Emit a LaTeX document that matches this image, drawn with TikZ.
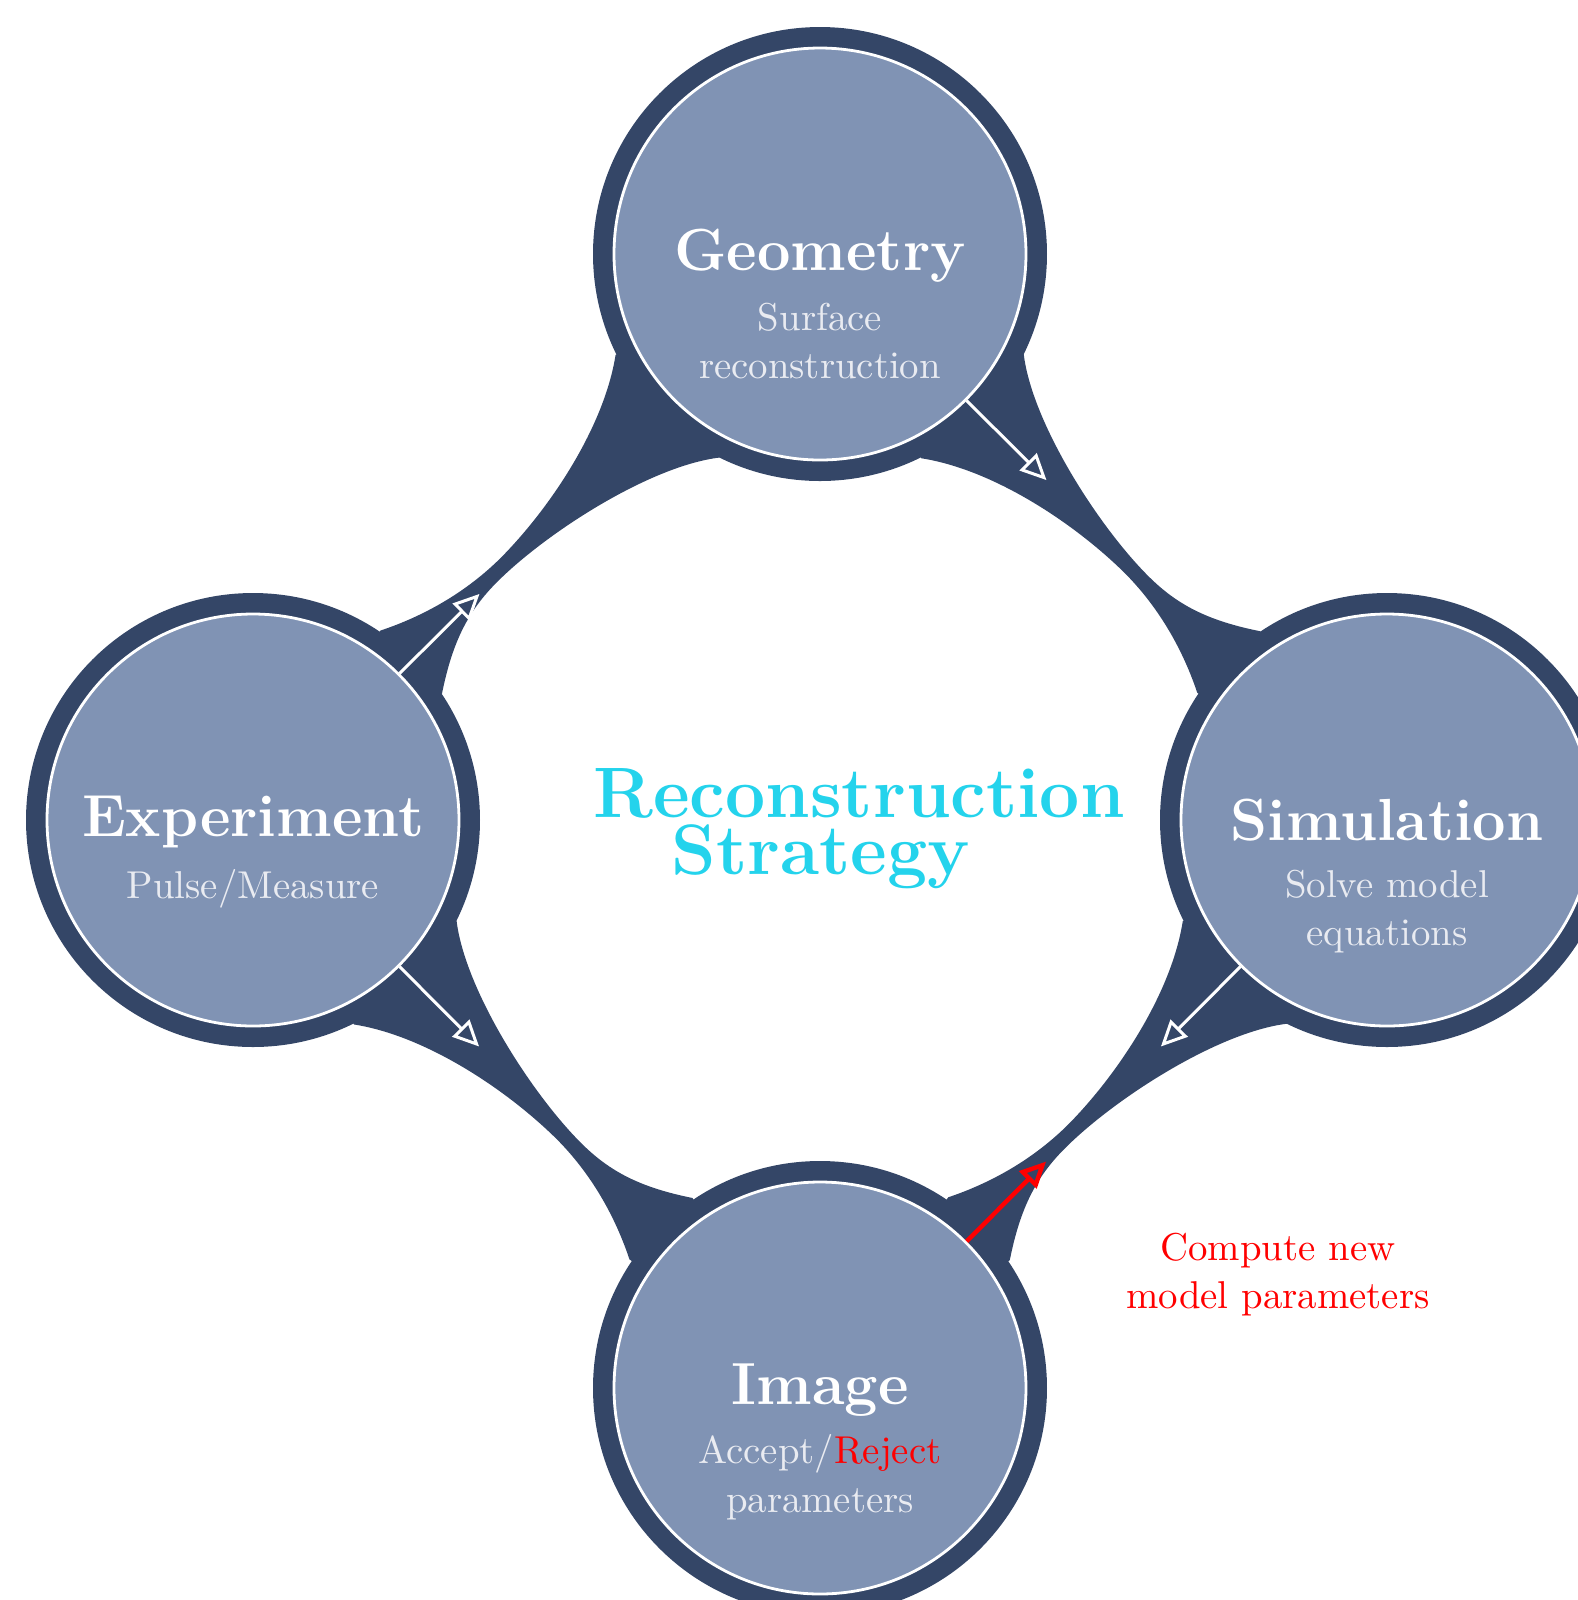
\documentclass[tikz,border=0pt]{standalone}
\usepackage{fontspec}
\usetikzlibrary{calc,arrows.meta}
\definecolor{navy}{RGB}{52,70,103}
\definecolor{corefill}{RGB}{128,147,180}
\definecolor{subtxt}{RGB}{233,235,241}
\definecolor{cyanT}{RGB}{36,211,236}
\pgfdeclarelayer{bg}
\pgfsetlayers{bg,main}
% band from #1 (wide end) to #2 (narrow end)
\newcommand\bandfill[2]{%
  \fill[navy] (#1.center)
    -- ($(#1)!53.75pt!(#2)!18.25pt!90:(#2)$)
    .. controls ($(#1)!67.5pt!(#2)!7.5pt!90:(#2)$) and ($(#1)!97.5pt!(#2)!1pt!90:(#2)$)
    .. ($(#1)!115pt!(#2)!1pt!90:(#2)$)
    .. controls ($(#1)!125pt!(#2)!1pt!90:(#2)$) and ($(#1)!133.25pt!(#2)!3.5pt!90:(#2)$)
    .. ($(#1)!144.5pt!(#2)!11pt!90:(#2)$)
    -- (#2.center)
    -- ($(#1)!144.25pt!(#2)!-11pt!90:(#2)$)
    .. controls ($(#1)!134.25pt!(#2)!-6pt!90:(#2)$) and ($(#1)!122.5pt!(#2)!-2.625pt!90:(#2)$)
    .. ($(#1)!110pt!(#2)!-2.625pt!90:(#2)$)
    .. controls ($(#1)!92.5pt!(#2)!-2.75pt!90:(#2)$) and ($(#1)!68.75pt!(#2)!-7.5pt!90:(#2)$)
    .. ($(#1)!54pt!(#2)!-18.25pt!90:(#2)$)
    -- cycle;}
\begin{document}
\begin{tikzpicture}[x=0.25pt,y=-0.25pt,
  ring/.style={circle,fill=navy,minimum size=113.5pt,inner sep=0pt,outer sep=0pt},
  corebox/.style={circle,fill=corefill,draw=white,line width=0.7pt,minimum size=103pt,inner sep=0pt},
  ttl/.style={anchor=base,text=white,font=\fontsize{14.85pt}{18pt}\selectfont\bfseries,inner sep=0pt},
  subt/.style={anchor=base,text=subtxt,font=\fontsize{9.7pt}{12pt}\selectfont,inner sep=0pt},
  ctr/.style={anchor=base,text=cyanT,font=\fontsize{17.85pt}{22pt}\selectfont\bfseries,inner sep=0pt},
  redt/.style={anchor=base,text=red,font=\fontsize{9.7pt}{12pt}\selectfont,inner sep=0pt},
  warrow/.style={draw=white,line width=0.75pt,-{Triangle[open,length=6.5pt,width=6pt]}},
  rarrow/.style={draw=red,line width=1.1pt,-{Triangle[open,length=6.5pt,width=6pt]}}]
\useasboundingbox (0,0) rectangle (1578,1600);
\clip (0,0) rectangle (1578,1600);

% outer rings
\node[ring] (Gr) at (820,254) {};
\node[ring] (Er) at (253,820) {};
\node[ring] (Sr) at (1387,820) {};
\node[ring] (Ir) at (820,1388) {};
% inner circles
\node[corebox] (G) at (820,254) {};
\node[corebox] (E) at (253,820) {};
\node[corebox] (S) at (1387,820) {};
\node[corebox] (I) at (820,1388) {};

% connecting bands
\begin{pgfonlayer}{bg}
  \bandfill{G}{S}
  \bandfill{G}{E}
  \bandfill{S}{I}
  \bandfill{E}{I}
\end{pgfonlayer}

% arrows
\coordinate (tGS) at ($(G)!80pt!(S)$);
\coordinate (tEG) at ($(E)!80pt!(G)$);
\coordinate (tEI) at ($(E)!80pt!(I)$);
\coordinate (tSI) at ($(S)!80pt!(I)$);
\coordinate (tIS) at ($(I)!80pt!(S)$);
\draw[warrow] (G.-45) -- (tGS);
\draw[warrow] (E.45) -- (tEG);
\draw[warrow] (E.-45) -- (tEI);
\draw[warrow] (S.-135) -- (tSI);
\draw[rarrow] (I.45) -- (tIS);

% texts
\node[ttl] (Gt) at (820,270) {Geometry};
\node[subt] (Gs1) at (820,330) {Surface};
\node[subt] (Gs2) at (820,378) {reconstruction};
\node[ttl] (Et) at (253,836) {Experiment};
\node[subt] (Es1) at (253,898) {Pulse/Measure};
\node[ttl] (St) at (1387,840) {Simulation};
\node[subt] (Ss1) at (1387,897) {Solve model};
\node[subt] (Ss2) at (1387,945) {equations};
\node[ttl] (It) at (820,1404) {Image};
\node[subt] (Is1) at (820,1463) {Accept/\textcolor{red}{Reject}};
\node[subt] (Is2) at (820,1512) {parameters};

\node[ctr] (R1) at (859,817) {Reconstruction};
\node[ctr] (R2) at (821,874) {Strategy};

\node[redt] (C1) at (1278,1260) {Compute new};
\node[redt] (C2) at (1278,1308) {model parameters};
\end{tikzpicture}
\end{document}
